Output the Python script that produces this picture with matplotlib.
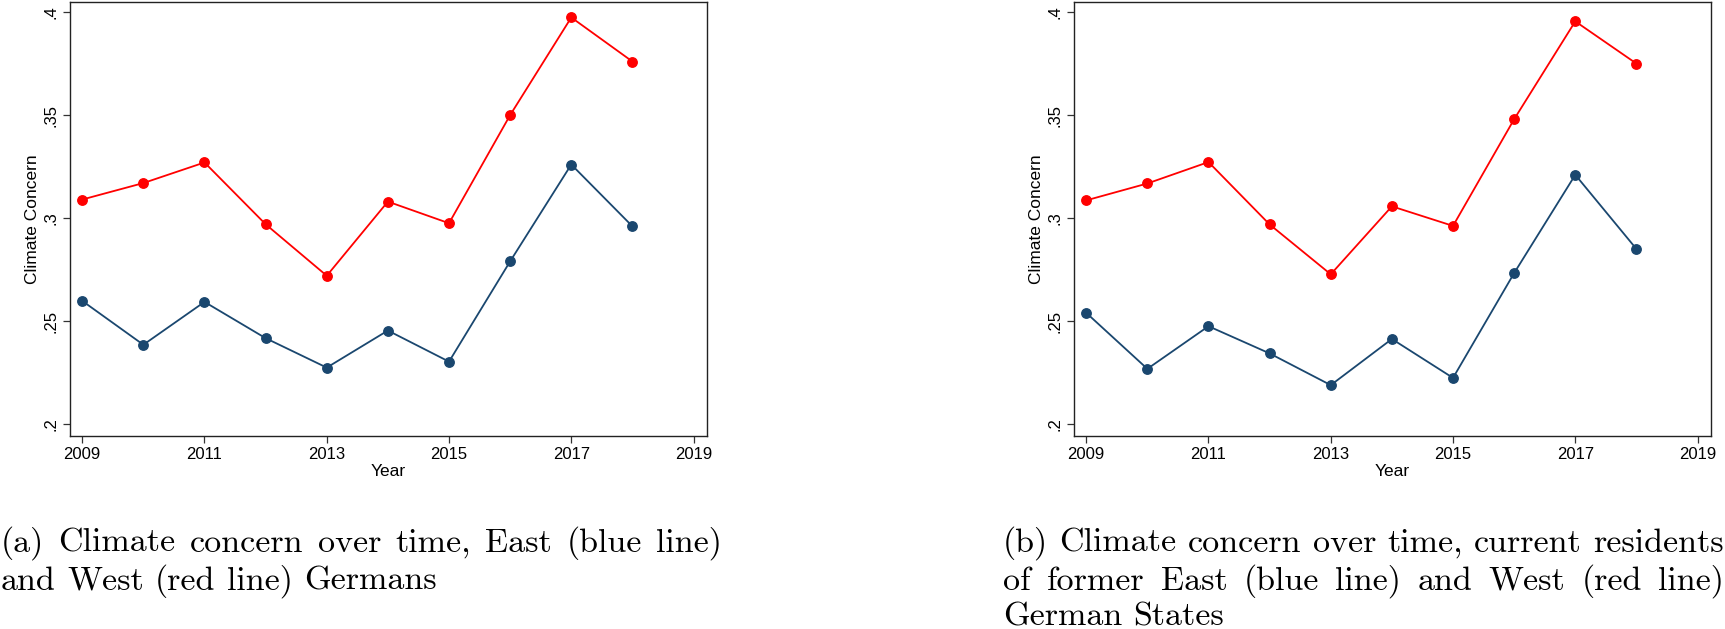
import matplotlib
matplotlib.use("Agg")
import matplotlib.pyplot as plt
from matplotlib.font_manager import FontProperties

years = [2009, 2010, 2011, 2012, 2013, 2014, 2015, 2016, 2017, 2018]

west_a = [0.309, 0.317, 0.327, 0.297, 0.272, 0.308, 0.2975, 0.350, 0.3974, 0.376]
east_a = [0.2598, 0.2385, 0.2593, 0.2417, 0.2274, 0.2454, 0.2303, 0.279, 0.326, 0.296]

west_b = [0.3086, 0.3168, 0.3272, 0.2969, 0.2727, 0.3057, 0.2962, 0.348, 0.3955, 0.375]
east_b = [0.254, 0.2268, 0.2475, 0.2343, 0.2189, 0.2413, 0.2224, 0.2733, 0.321, 0.285]

xticks = [2009, 2011, 2013, 2015, 2017, 2019]
yticks = [0.2, 0.25, 0.3, 0.35, 0.4]
ytick_labels = [".2", ".25", ".3", ".35", ".4"]

caption_a = [["(a)", "Climate", "concern", "over", "time,", "East", "(blue", "line)"],
             ["and", "West", "(red", "line)", "Germans"]]
caption_b = [["(b)", "Climate", "concern", "over", "time,", "current", "residents"],
             ["of", "former", "East", "(blue", "line)", "and", "West", "(red", "line)"],
             ["German", "States"]]

W, H = 1725, 629
fig = plt.figure(figsize=(W / 100, H / 100), dpi=100)

RED = "#ff0000"
NAVY = "#1a476f"
tickfont = "Liberation Sans"


def make_axes(left_px, east, west):
    ax = fig.add_axes([left_px / W, 1 - 436 / H, 637 / W, (436 - 2) / H])
    ax.plot(years, west, color=RED, lw=1.3, marker="o", ms=6.8, zorder=3)
    ax.plot(years, east, color=NAVY, lw=1.3, marker="o", ms=6.8, zorder=3)
    ax.set_xlim(2008.80, 2019.22)
    ax.set_ylim(0.1942, 0.4049)
    ax.set_xticks(xticks)
    ax.set_xticklabels([str(x) for x in xticks], fontsize=12, family=tickfont)
    ax.set_yticks(yticks)
    ax.set_yticklabels(ytick_labels, fontsize=12, family=tickfont,
                       rotation=90, va="center")
    ax.tick_params(direction="out", length=5, width=0.9, color="#333333", pad=3)
    for s in ax.spines.values():
        s.set_linewidth(1.0)
        s.set_color("#222222")
    ax.set_xlabel("Year", fontsize=12.5, family=tickfont, labelpad=1)
    ax.set_ylabel("Climate Concern", fontsize=12.5, family=tickfont, labelpad=3)
    return ax


make_axes(70, east_a, west_a)
make_axes(1074, east_b, west_b)

fp = FontProperties(family="cmr10", size=24.5)
fig.canvas.draw()
r = fig.canvas.get_renderer()


def word_width(w):
    t = fig.text(0, 0, w, fontproperties=fp)
    bb = t.get_window_extent(r)
    t.remove()
    return bb.width


em_px = 24.5 * 100 / 72
space_w = 0.333 * em_px


def draw_paragraph(lines, x0, width, baselines):
    for i, (words, yb) in enumerate(zip(lines, baselines)):
        widths = [word_width(w) for w in words]
        last = i == len(lines) - 1
        if last or len(words) < 2:
            gap = space_w
        else:
            gap = (width - sum(widths)) / (len(words) - 1)
        x = x0
        for w, ww in zip(words, widths):
            fig.text(x / W, 1 - yb / H, w, fontproperties=fp, va="baseline", ha="left")
            x += ww + gap


draw_paragraph(caption_a, 1, 721, [552, 590])
draw_paragraph(caption_b, 1003, 721, [552, 590, 626])

fig.savefig("out.png", dpi=100)
